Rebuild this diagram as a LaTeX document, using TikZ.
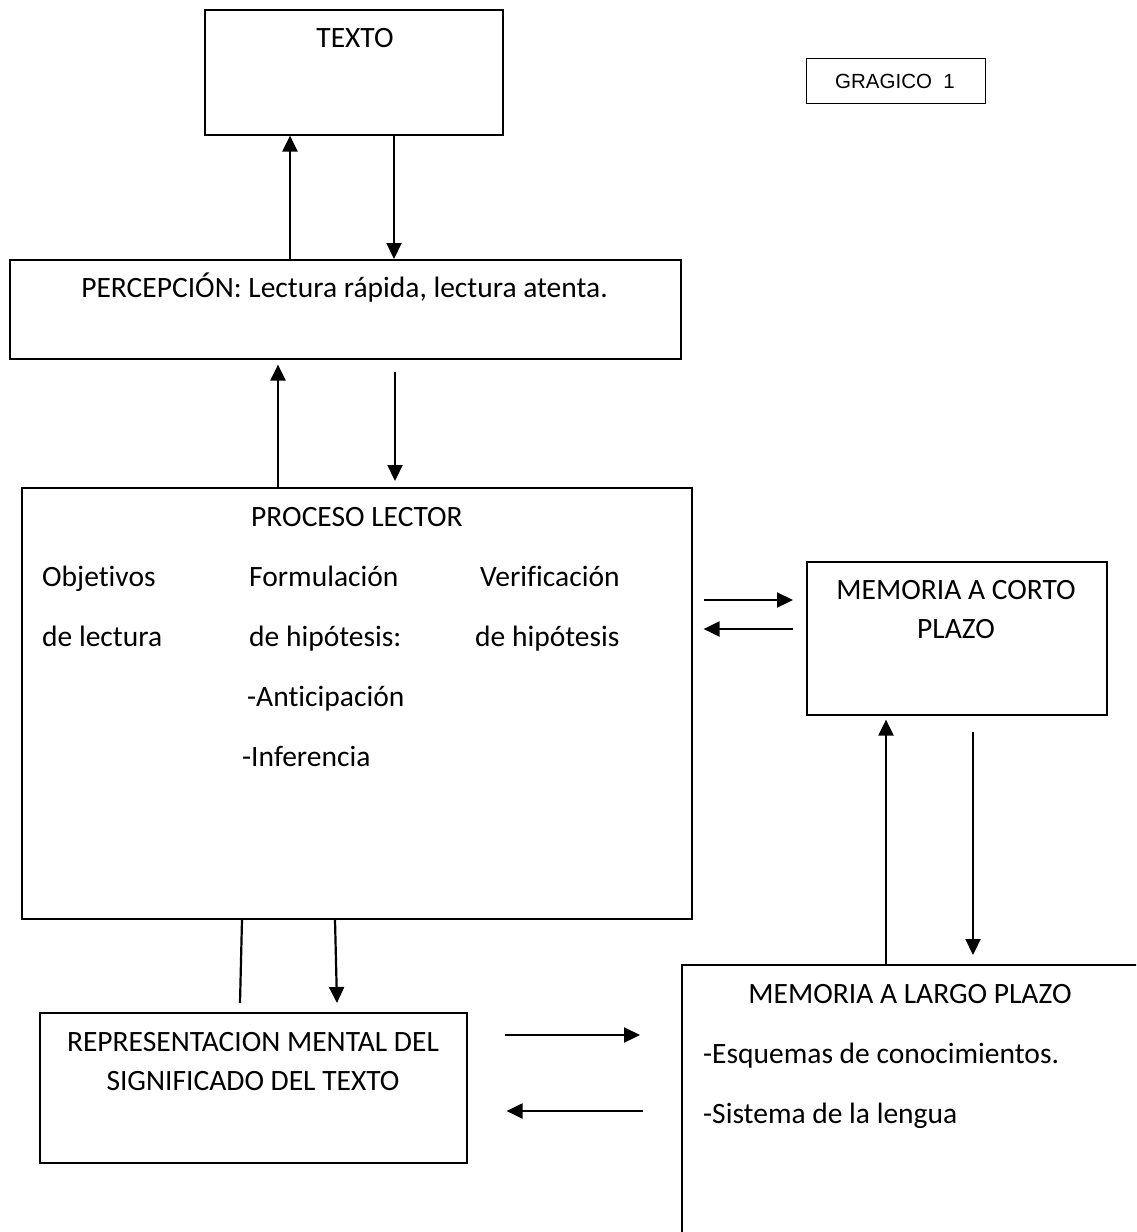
\documentclass[tikz,border=0pt]{standalone}
\usepackage{fontspec}
\setmainfont{Carlito}[Ligatures={NoCommon}]
\newfontfamily\arialf{Liberation Sans}
\usetikzlibrary{arrows.meta,calc}
\begin{document}
\begin{tikzpicture}[x=1pt,y=1pt,
  box/.style={draw, line width=1.6pt, inner sep=0pt, anchor=north west},
  lbl/.style={inner sep=0pt, anchor=base, font=\fontsize{29.5}{34}\selectfont},
  lbll/.style={lbl, anchor=base west},
  arr/.style={line width=2.2pt, -{Triangle[length=16pt,width=15pt]}},
  ln/.style={line width=2.2pt}]
\useasboundingbox (0,0) rectangle (1136,-1232);
\clip (0,0) rectangle (1136,-1232);
% boxes
\node[box, minimum width=298pt, minimum height=125pt] (texto) at (204,-9) {};
\node[box, minimum width=179pt, minimum height=45pt, line width=1.2pt] (graf) at (806,-58) {};
\node[box, minimum width=671pt, minimum height=99pt] (perc) at (9,-259) {};
\node[box, minimum width=670pt, minimum height=431pt] (proc) at (21,-487) {};
\node[box, minimum width=300pt, minimum height=153pt] (corto) at (806,-561) {};
\node[box, minimum width=500pt, minimum height=300pt] (largo) at (681,-964) {};
\node[box, minimum width=427pt, minimum height=150pt] (repr) at (39,-1012) {};
% texts
\node[lbl] (ttexto) at (355,-47) {TEXTO};
\node[inner sep=0pt, anchor=base, font=\arialf\fontsize{20.5}{24}\selectfont] (tgraf) at (895,-88) {GRAGICO\ \ 1};
\node[lbl] (tperc) at (344.5,-297) {PERCEPCIÓN: Lectura rápida, lectura atenta.};
\node[lbl] (tproc) at (357,-526) {PROCESO LECTOR};
\node[lbll] (tobj1) at (42,-586) {Objetivos};
\node[lbll] (tobj2) at (42,-646) {de lectura};
\node[lbll] (tform1) at (249,-586) {Formulación};
\node[lbll] (tform2) at (249,-646) {de hipótesis:};
\node[lbll] (tant) at (247,-706) {-Anticipación};
\node[lbll] (tinf) at (242,-766) {-Inferencia};
\node[lbll] (tver1) at (480,-586) {Verificación};
\node[lbll] (tver2) at (475,-646) {de hipótesis};
\node[lbl] (tcorto1) at (956,-599) {MEMORIA A CORTO};
\node[lbl] (tcorto2) at (956,-638) {PLAZO};
\node[lbl] (tlargo) at (910,-1003) {MEMORIA A LARGO PLAZO};
\node[lbll] (tesq) at (703,-1063) {-Esquemas de conocimientos.};
\node[lbll] (tsis) at (703,-1123) {-Sistema de la lengua};
\node[lbl] (trep1) at (253,-1051) {REPRESENTACION MENTAL DEL};
\node[lbl] (trep2) at (253,-1090) {SIGNIFICADO DEL TEXTO};
% connectors
\draw[arr] ($(perc.north west)+(281,0)$) -- ($(texto.south west)+(86,0)$);
\draw[arr] ($(texto.south west)+(190,0)$) -- ($(perc.north west)+(385,0)$);
\draw[arr] ($(proc.north west)+(257,0)$) -- ($(perc.south west)+(269,-5)$);
\draw[arr] ($(perc.south west)+(386,-12)$) -- ($(proc.north west)+(374,6)$);
\draw[arr] ($(proc.north east)+(11,-113)$) -- ($(corto.north west)+(-13,-39)$);
\draw[arr] ($(corto.north west)+(-13,-68)$) -- ($(proc.north east)+(11,-142)$);
\draw[arr] ($(largo.north west)+(205,0)$) -- ($(corto.south west)+(80,-4)$);
\draw[arr] ($(corto.south west)+(167,-16)$) -- ($(largo.north west)+(292,9)$);
\draw[ln] ($(proc.south west)+(221,0)$) -- ($(repr.north west)+(201,9)$);
\draw[arr] ($(proc.south west)+(314,0)$) -- ($(repr.north west)+(298,9)$);
\draw[arr] ($(repr.north east)+(37,-23)$) -- ($(largo.north west)+(-41,-71)$);
\draw[arr] ($(largo.north west)+(-38,-147)$) -- ($(repr.north east)+(39,-99)$);
\end{tikzpicture}
\end{document}
